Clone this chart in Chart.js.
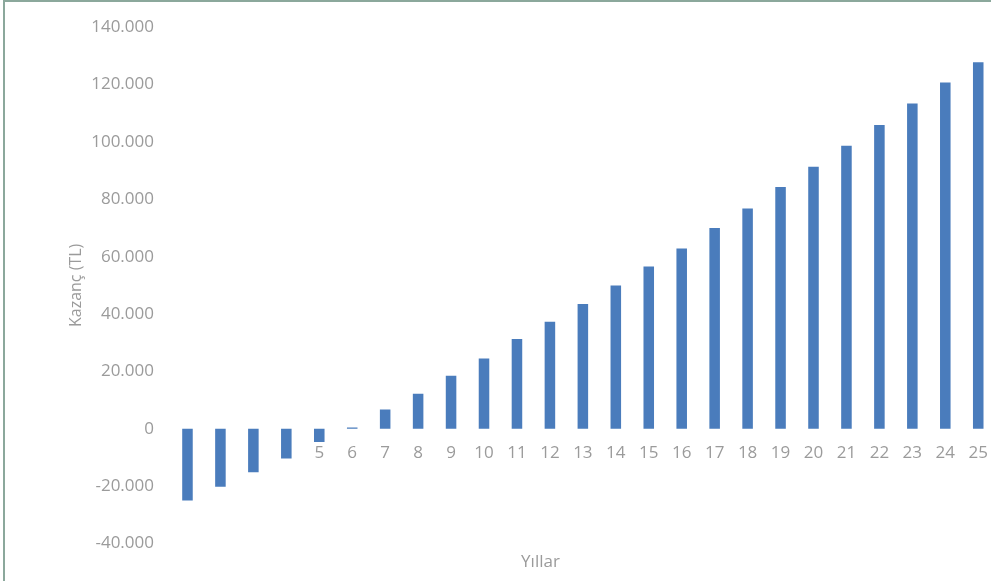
<!DOCTYPE html>
<html>
<head>
<meta charset="utf-8">
<title>Kazanç (TL) - Yıllar</title>
<script src="https://cdn.jsdelivr.net/npm/chart.js@4/dist/chart.umd.min.js"></script>
<style>
  html, body { margin: 0; padding: 0; background: #ffffff; overflow: hidden; width: 991px; height: 581px; }
  #wrap { position: relative; width: 991px; height: 581px; overflow: hidden; }
  #wrap canvas { position: absolute; left: 0; top: 0; }
  #frame {
    position: absolute; left: 3px; top: 0; width: 1200px; height: 800px;
    border-left: 2px solid #8ba89c; border-top: 2px solid #8ba89c;
    pointer-events: none;
  }
</style>
</head>
<body>
<div id="wrap">
  <canvas id="chart" width="1002" height="581"></canvas>
  <div id="frame"></div>
</div>
<script>
// Years of the investment period
const years = ['1','2','3','4','5','6','7','8','9','10','11','12','13',
               '14','15','16','17','18','19','20','21','22','23','24','25'];

// Cumulative gain per year (TL)
const gains = [-25000, -20200, -15100, -10300, -4600, 500, 6700, 12200, 18500,
               24500, 31300, 37300, 43500, 50000, 56600, 62900, 70000, 76800,
               84300, 91400, 98700, 105900, 113400, 120700, 127800];

// Value axis range and tick step
const yMin = -40000;
const yMax = 140000;
const yStep = 20000;

const textColor = '#9b9b9b';
const fontFamily = "'Open Sans', 'Liberation Sans', sans-serif";

// Thousands separated with a dot, e.g. 120.000
function formatTL(v) {
  const sign = v < 0 ? '-' : '';
  return sign + String(Math.abs(v)).replace(/\B(?=(\d{3})+(?!\d))/g, '.');
}

new Chart(document.getElementById('chart'), {
  type: 'bar',
  data: {
    labels: years,
    datasets: [{
      label: 'Kazanç (TL)',
      data: gains,
      backgroundColor: '#4a7cbc',
      borderWidth: 0,
      categoryPercentage: 1.0,
      barPercentage: 0.32
    }]
  },
  options: {
    responsive: false,
    animation: false,
    devicePixelRatio: 1,
    layout: { padding: { left: 81, right: 2, top: 24, bottom: 0 } },
    plugins: {
      legend: { display: false },
      tooltip: { enabled: false },
      title: {
        display: true,
        position: 'bottom',
        text: 'Yıllar',
        color: textColor,
        font: { family: fontFamily, size: 17, weight: 'normal' },
        padding: { top: 8, bottom: 9 }
      }
    },
    scales: {
      x: {
        // category labels sit on the zero line
        position: { y: 0 },
        grid: { display: false, drawTicks: false },
        border: { display: false },
        ticks: {
          color: textColor,
          font: { family: fontFamily, size: 17 },
          padding: 14,
          maxRotation: 0,
          autoSkip: false
        },
        afterFit(scale) { scale.height = 0; }
      },
      y: {
        min: yMin,
        max: yMax,
        grid: { display: false, drawTicks: false },
        border: { display: false },
        ticks: {
          stepSize: yStep,
          color: textColor,
          font: { family: fontFamily, size: 17 },
          padding: 17,
          callback: (v) => formatTL(v)
        },
        title: {
          display: true,
          text: 'Kazanç (TL)',
          color: textColor,
          font: { family: fontFamily, size: 16 },
          padding: { top: -14, bottom: 0 }
        },
        afterFit(scale) { scale.width = 90; }
      }
    }
  }
});
</script>
</body>
</html>
